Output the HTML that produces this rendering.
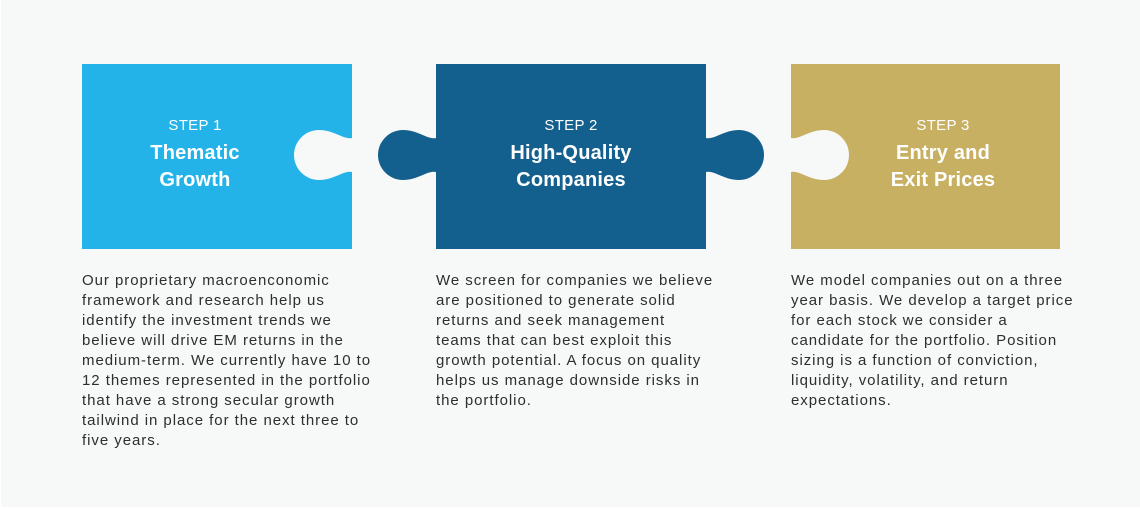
<!DOCTYPE html>
<html><head><meta charset="utf-8"><style>
body{margin:0;width:1140px;height:508px;background:#fff;position:relative;overflow:hidden;font-family:"Liberation Sans",sans-serif}
.bg{position:absolute;left:1px;top:0;width:1139px;height:507px;background:#f7f8f8}
.t{position:absolute;width:260px;text-align:center;color:#fff;margin-left:-130px}
.s{font-size:15px;top:117px;letter-spacing:0.3px}
.h{font-size:20px;font-weight:bold;line-height:27px;top:140px;letter-spacing:0.2px}
.p{position:absolute;top:271px;font-size:15px;line-height:20px;color:#2e2e2e;letter-spacing:0.95px;white-space:pre}
</style></head><body>
<div class="bg"></div>
<svg width="1140" height="508" style="position:absolute;left:0;top:0">
<defs><path id="k" d="M0,138 C8,140 18,130 33,130 A25 25 0 0 1 33,180 C18,180 8,170 0,172 Z"/></defs>
<rect x="82" y="64" width="270" height="185" fill="#23b3e8"/>
<rect x="436" y="64" width="270" height="185" fill="#13608f"/>
<rect x="791" y="64" width="269" height="185" fill="#c8b062"/>
<use href="#k" transform="translate(352,0) scale(-1,1)" fill="#f7f8f8"/>
<use href="#k" transform="translate(436,0) scale(-1,1)" fill="#13608f"/>
<use href="#k" transform="translate(706,0)" fill="#13608f"/>
<use href="#k" transform="translate(791,0)" fill="#f7f8f8"/>
</svg>
<div class="t s" style="left:195px">STEP 1</div>
<div class="t h" style="left:195px">Thematic<br>Growth</div>
<div class="t s" style="left:571px">STEP 2</div>
<div class="t h" style="left:571px">High-Quality<br>Companies</div>
<div class="t s" style="left:943px">STEP 3</div>
<div class="t h" style="left:943px">Entry and<br>Exit Prices</div>
<div class="p" style="left:82px">Our proprietary macroenconomic
framework and research help us
identify the investment trends we
believe will drive EM returns in the
medium-term. We currently have 10 to
12 themes represented in the portfolio
that have a strong secular growth
tailwind in place for the next three to
five years.</div>
<div class="p" style="left:436px">We screen for companies we believe
are positioned to generate solid
returns and seek management
teams that can best exploit this
growth potential. A focus on quality
helps us manage downside risks in
the portfolio.</div>
<div class="p" style="left:791px">We model companies out on a three
year basis. We develop a target price
for each stock we consider a
candidate for the portfolio. Position
sizing is a function of conviction,
liquidity, volatility, and return
expectations.</div>
</body></html>
